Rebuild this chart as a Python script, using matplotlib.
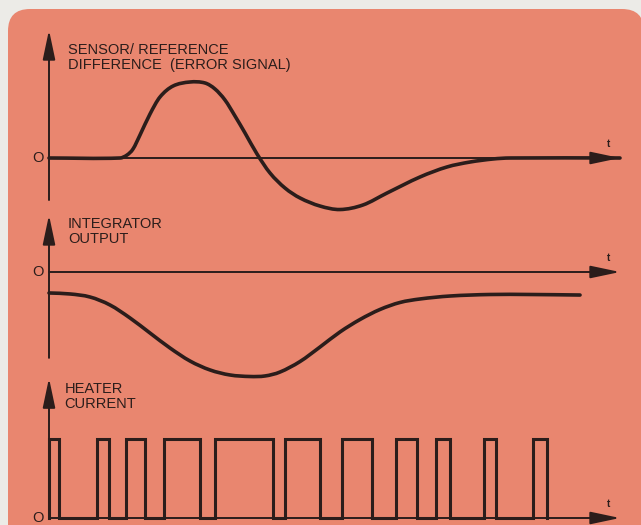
import matplotlib
matplotlib.use("Agg")
import matplotlib.pyplot as plt
from matplotlib.patches import FancyBboxPatch, PathPatch
from matplotlib.path import Path

plt.rcParams["font.family"] = ["Liberation Sans", "DejaVu Sans"]

INK = "#2b1d1b"
CARD = "#e9866f"
PAPER = "#ecebe7"

# error signal (sensor minus reference), time in arbitrary units
err_t = [0.0, 1.243, 1.366, 1.471, 1.594, 1.769, 1.944, 2.172, 2.469, 2.732, 2.907,
         3.082, 3.257, 3.433, 3.643, 3.870, 4.133, 4.396, 4.746, 5.096, 5.499,
         5.919, 6.497, 6.970, 7.373, 7.776, 8.074, 10.0]
err_v = [0.0, 0.0, 0.039, 0.118, 0.303, 0.579, 0.803, 0.947, 1.0, 0.987, 0.908,
         0.763, 0.553, 0.329, 0.053, -0.197, -0.395, -0.526, -0.632, -0.678, -0.618,
         -0.461, -0.250, -0.118, -0.053, -0.013, 0.0, 0.0]

# integrator output
int_t = [0.0, 0.368, 0.718, 1.068, 1.419, 1.769, 2.119, 2.469, 2.820, 3.170, 3.520, 3.783,
         4.046, 4.396, 4.746, 5.096, 5.447, 5.797, 6.147, 6.497, 7.023, 7.723, 8.424, 9.300]
int_v = [-0.276, -0.289, -0.329, -0.434, -0.605, -0.803, -1.0, -1.171, -1.289, -1.355, -1.375, -1.368,
         -1.316, -1.178, -0.987, -0.789, -0.625, -0.493, -0.401, -0.355, -0.316, -0.296, -0.296, -0.303]

# heater on/off switching times
heat_on = [0.0, 0.84, 1.35, 2.01, 2.91, 4.13, 5.13, 6.08, 6.78, 7.62, 8.48]
heat_off = [0.18, 1.05, 1.68, 2.64, 3.92, 4.75, 5.66, 6.44, 7.02, 7.83, 8.72]
heat_level = 1.04

labels = ["SENSOR/ REFERENCE\nDIFFERENCE  (ERROR SIGNAL)", "INTEGRATOR\nOUTPUT", "HEATER\nCURRENT"]

W, H = 641, 525
X0, PX = 49, 57.1   # pixel of t=0, pixels per time unit
PY = 76             # pixels per signal unit
T_END = 10.0

fig = plt.figure(figsize=(W / 100, H / 100), dpi=100, facecolor=PAPER)

bg = fig.add_axes([0, 0, 1, 1])
bg.set_xlim(0, W)
bg.set_ylim(H, 0)
bg.axis("off")
bg.add_patch(FancyBboxPatch((8, 9), 636, 560, boxstyle="round,pad=0,rounding_size=22",
                            fc=CARD, ec="none"))


def panel(top, bottom, zero):
    ax = fig.add_axes([0, 1 - bottom / H, 1, (bottom - top) / H])
    ax.set_xlim(-X0 / PX, (W - X0) / PX)
    ax.set_ylim((zero - bottom) / PY, (zero - top) / PY)
    ax.axis("off")
    ax.patch.set_alpha(0)
    return ax


def arrow(ax, start, tip):
    ax.annotate("", xy=tip, xytext=start,
                arrowprops=dict(arrowstyle="-|>,head_length=1.8,head_width=0.38",
                                mutation_scale=10, lw=1.4, color=INK,
                                shrinkA=0, shrinkB=0))


def axes_frame(ax, y_bottom, y_tip, label, label_top, label_x=0.33):
    arrow(ax, (0, y_bottom), (0, y_tip))
    arrow(ax, (0, 0), (T_END, 0))
    ax.text(-0.19, 0, "O", ha="center", va="center", fontsize=10.5, color=INK)
    ax.text(9.79, 0.19, "t", ha="center", va="center", fontsize=7, fontweight="bold", color=INK)
    ax.text(label_x, label_top, label, ha="left", va="top", fontsize=10.5,
            linespacing=1.05, color=INK)


def smooth_curve(ax, xs, ys, lw):
    # cubic Hermite through the points (slopes from neighbours), as Bezier segments
    n = len(xs)
    slopes = []
    for i in range(n):
        a, b = max(i - 1, 0), min(i + 1, n - 1)
        slopes.append((ys[b] - ys[a]) / (xs[b] - xs[a]))
    verts = [(xs[0], ys[0])]
    codes = [Path.MOVETO]
    for i in range(n - 1):
        h = (xs[i + 1] - xs[i]) / 3
        verts += [(xs[i] + h, ys[i] + slopes[i] * h),
                  (xs[i + 1] - h, ys[i + 1] - slopes[i + 1] * h),
                  (xs[i + 1], ys[i + 1])]
        codes += [Path.CURVE4] * 3
    ax.add_patch(PathPatch(Path(verts, codes), fc="none", ec=INK, lw=lw,
                           capstyle="round", joinstyle="round", clip_on=False))


# error signal
ax1 = panel(0, 205, 158)
axes_frame(ax1, -0.553, 1.684, labels[0], 1.51)
smooth_curve(ax1, err_t, err_v, 2.6)

# integrator output
ax2 = panel(205, 375, 272)
axes_frame(ax2, -1.13, 0.75, labels[1], 0.72)
smooth_curve(ax2, int_t, int_v, 2.6)

# heater current, square pulses
ax3 = panel(375, 525, 518)
axes_frame(ax3, 0, 1.84, labels[2], 1.79, label_x=0.27)
px, py = [], []
for on, off in zip(heat_on, heat_off):
    px += [on, on, off, off]
    py += [0, heat_level, heat_level, 0]
ax3.plot(px, py, color=INK, lw=2.2, solid_joinstyle="miter", clip_on=False)

fig.savefig("out.png", dpi=100, facecolor=PAPER)
